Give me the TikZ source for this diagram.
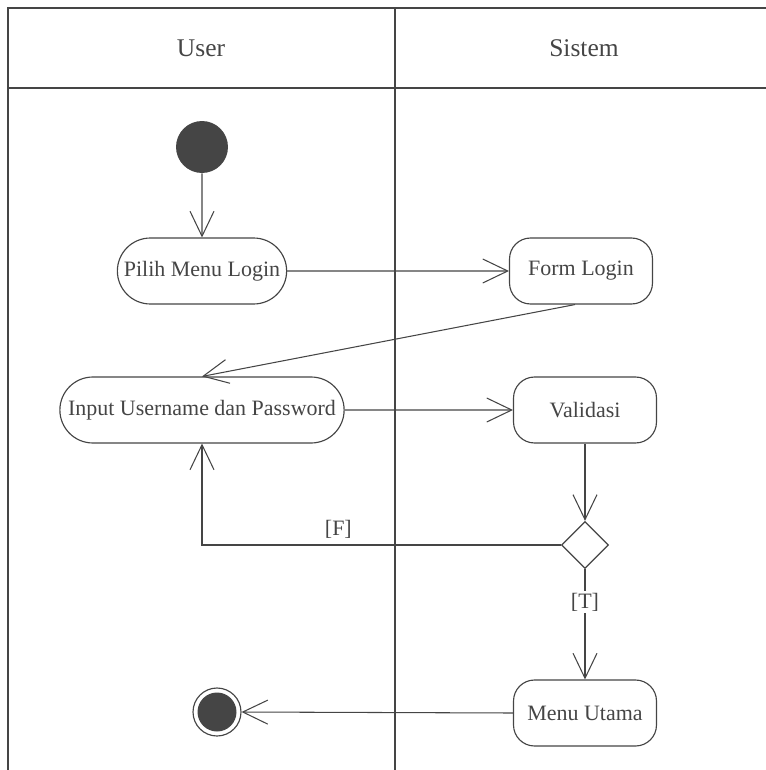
\documentclass[tikz,border=0pt]{standalone}
\usepackage{fontspec}
\setmainfont{Liberation Serif}
\usetikzlibrary{arrows.meta,shapes.misc,shapes.geometric}
\definecolor{ink}{HTML}{454545}
\tikzset{
  lane/.style     = {draw=ink, line width=0.8pt},
  action/.style   = {rounded rectangle, draw=ink, line width=0.65pt,
                     minimum height=1.32cm, text=ink,
                     font=\fontsize{12.5}{14}\selectfont},
  system/.style   = {rectangle, rounded corners=0.42cm, draw=ink,
                     line width=0.65pt, minimum height=1.32cm,
                     minimum width=2.86cm, text=ink,
                     font=\fontsize{12.5}{14}\selectfont},
  startnode/.style = {circle, fill=ink, minimum size=1.04cm, inner sep=0pt},
  stopnode/.style  = {circle, draw=ink, line width=0.65pt, fill=white,
                      minimum size=0.96cm, inner sep=0pt,
                      path picture={\fill[ink] (path picture bounding box.center)
                                    circle (0.39cm);}},
  decision/.style = {diamond, draw=ink, line width=0.75pt, fill=white,
                     minimum size=0.94cm, inner sep=0pt},
  flow/.style     = {draw=ink, line width=0.6pt,
                     -{Straight Barb[length=0.5cm, width=0.48cm]}},
  guard/.style    = {text=ink, font=\fontsize{12.5}{14}\selectfont},
  lanehead/.style = {text=ink, font=\fontsize{14.5}{16}\selectfont}
}
\begin{document}
\begin{tikzpicture}[x=0.02cm, y=-0.02cm]
  \useasboundingbox (0,0) rectangle (766,770);
  % swimlanes
  \draw[lane] (8,770) -- (8,8) -- (766,8);
  \draw[lane] (8,88) -- (766,88);
  \draw[lane] (395,8) -- (395,770);
  \node[lanehead] (user) at (201,48) {User};
  \node[lanehead] (sistem) at (584,48) {Sistem};

  % activities
  \node[startnode] (start) at (202,147) {};
  \node[action, minimum width=3.62cm] (pilih) at (202,271) {Pilih Menu Login};
  \node[system] (form) at (581,271) {Form Login};
  \node[action, minimum width=5.92cm] (input) at (202,410) {Input Username dan Password};
  \node[system] (valid) at (585,410) {Validasi};
  \node[decision] (dec) at (585,545) {};
  \node[system] (menu) at (585,713) {Menu Utama};
  \node[stopnode] (stop) at (217,712) {};

  % transitions
  \draw[flow] (start) -- (pilih);
  \draw[flow] (pilih) -- (form);
  \draw[flow] ([xshift=-0.12cm]form.south) -- (input.north);
  \draw[flow] (input) -- (valid);
  \draw[flow] (valid) -- (dec);
  \draw[flow] (dec.west) -| node[guard, pos=0.31, above] {[F]} (input.south);
  \draw[flow] (dec.south) -- node[guard, pos=0.3, fill=white, inner sep=1pt] {[T]} (menu.north);
  \draw[flow] (menu.west) -- (stop.east);
\end{tikzpicture}
\end{document}
